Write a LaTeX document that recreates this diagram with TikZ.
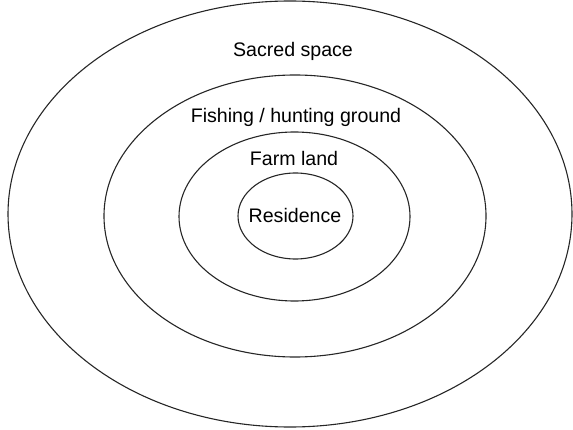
\documentclass[tikz,border=0pt]{standalone}
\usepackage{fontspec}
\setmainfont{Liberation Sans}
\usetikzlibrary{shapes.geometric}

\begin{document}
\begin{tikzpicture}[x=1pt, y=1pt,
  ring/.style={draw=black!85, ellipse, line width=1.1pt, inner sep=0pt},
  zone/.style={font=\fontsize{19.6}{22}\selectfont, inner sep=0pt}]

\useasboundingbox (0,0) rectangle (573,429);

% Anelli concentrici
\node[ring, minimum width=564, minimum height=426] (sacred)  at (290,215)   {};
\node[ring, minimum width=382, minimum height=282] (fishing) at (295,213)   {};
\node[ring, minimum width=231, minimum height=169] (farm)    at (294.5,212.5) {};
\node[ring, minimum width=115, minimum height=86]  (home)    at (295.5,213) {};

% Etichette
\node[zone] (lsacred)  at (293,378) {Sacred space};
\node[zone] (lfishing) at (296,312) {Fishing / hunting ground};
\node[zone] (lfarm)    at (294,271) {Farm land};
\node[zone] (lhome)    at (295,214) {Residence};

\end{tikzpicture}
\end{document}
